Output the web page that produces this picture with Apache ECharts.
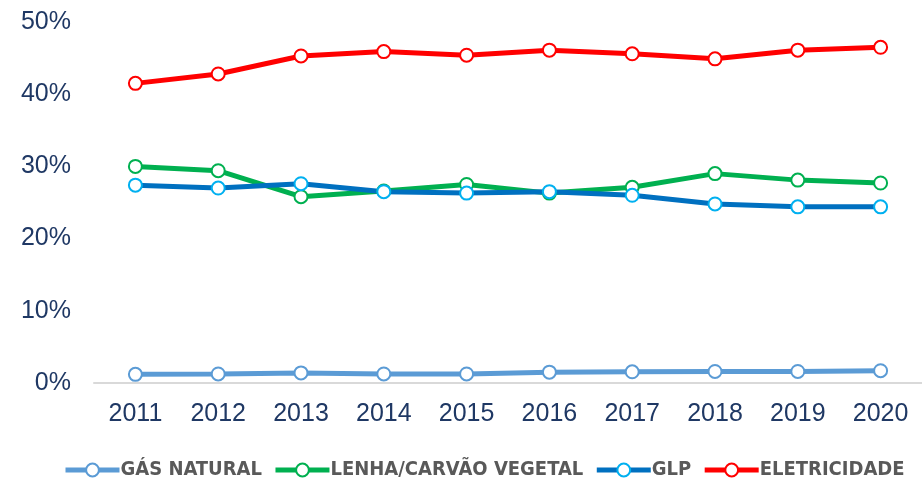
<!DOCTYPE html>
<html>
<head>
<meta charset="utf-8">
<script src="https://cdn.jsdelivr.net/npm/echarts@6/dist/echarts.min.js"></script>
<style>
  html, body { margin: 0; padding: 0; background: #fff; }
  #main { width: 922px; height: 479px; }
</style>
</head>
<body>
<div id="main"></div>
<script>
// anos
var anos = ['2011', '2012', '2013', '2014', '2015', '2016', '2017', '2018', '2019', '2020'];
// participação (%) de cada fonte
var gasNatural = [1.2, 1.25, 1.4, 1.25, 1.25, 1.5, 1.55, 1.6, 1.6, 1.7];
var lenha = [30.0, 29.4, 25.8, 26.6, 27.5, 26.3, 27.1, 29.0, 28.1, 27.7];
var glp = [27.4, 27.0, 27.6, 26.5, 26.3, 26.5, 26.0, 24.8, 24.4, 24.4];
var eletricidade = [41.5, 42.8, 45.3, 45.9, 45.4, 46.1, 45.6, 44.9, 46.1, 46.5];

var nomes = ['GÁS NATURAL', 'LENHA/CARVÃO VEGETAL', 'GLP', 'ELETRICIDADE'];

var myChart = echarts.init(document.getElementById('main'));

function serie(nome, dados, corLinha, corBorda) {
    return {
        name: nome,
        type: 'line',
        data: dados,
        symbol: 'circle',
        symbolSize: 13,
        lineStyle: { width: 5, color: corLinha },
        itemStyle: { color: '#fff', borderColor: corBorda, borderWidth: 2 },
        emphasis: { disabled: true }
    };
}

var option = {
    animation: false,
    grid: { left: 94, top: 22, bottom: 96, width: 838 },
    legend: {
        top: 455,
        left: 58,
        itemWidth: 54,
        itemHeight: 16,
        itemGap: 11,
        lineStyle: { width: 5 },
        textStyle: {
            fontFamily: '"Liberation Sans Narrow", "DejaVu Sans Condensed", sans-serif',
            fontWeight: 'bold',
            fontSize: 20,
            color: '#595959',
            padding: [0, 0, 0, -4]
        },
        data: nomes
    },
    xAxis: {
        type: 'category',
        data: anos,
        axisLine: { lineStyle: { color: '#D9D9D9', width: 2 } },
        axisTick: { show: false },
        axisLabel: {
            fontFamily: '"Liberation Sans", Arial, sans-serif',
            fontSize: 25,
            color: '#1F3864',
            margin: 19
        }
    },
    yAxis: {
        type: 'value',
        min: 0,
        max: 50,
        interval: 10,
        axisLine: { show: false },
        axisTick: { show: false },
        splitLine: { show: false },
        axisLabel: {
            formatter: '{value}%',
            fontFamily: '"Liberation Sans", Arial, sans-serif',
            fontSize: 25,
            color: '#1F3864',
            margin: 23
        }
    },
    series: [
        serie(nomes[0], gasNatural, '#5B9BD5', '#5B9BD5'),
        serie(nomes[1], lenha, '#00B050', '#00B050'),
        serie(nomes[2], glp, '#0070C0', '#00B0F0'),
        serie(nomes[3], eletricidade, '#FF0000', '#FF0000')
    ]
};

myChart.setOption(option);
</script>
</body>
</html>
